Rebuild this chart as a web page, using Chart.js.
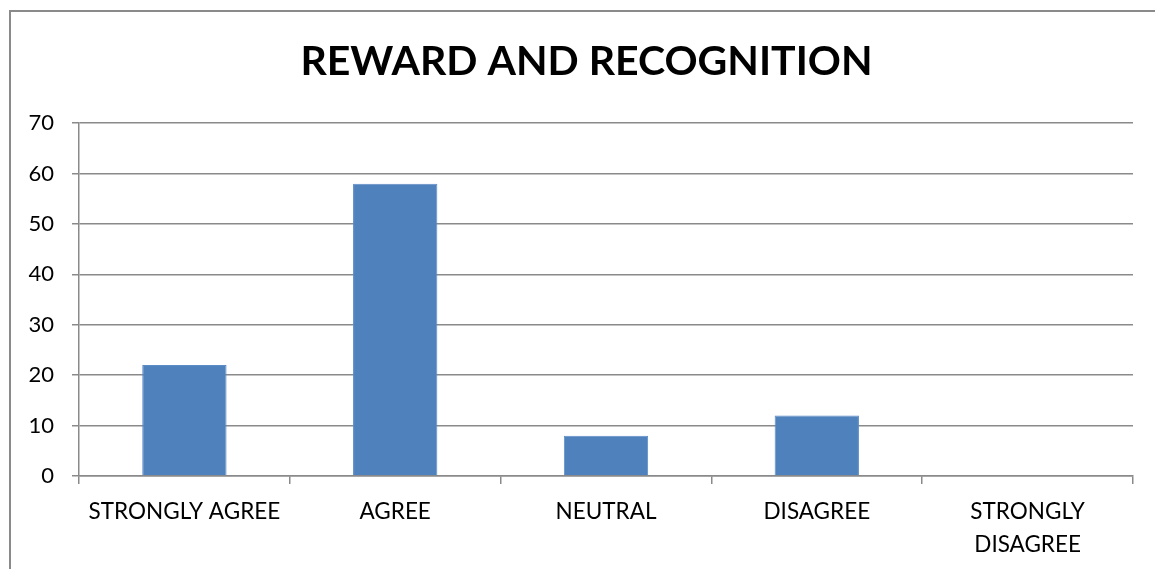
<!DOCTYPE html>
<html>
<head>
<meta charset="utf-8">
<script src="https://cdn.jsdelivr.net/npm/chart.js@4"></script>
<style>
  html, body { margin: 0; padding: 0; background: #fff; overflow: hidden; }
  #wrap { position: relative; width: 1155px; height: 569px; }
  #frame { position: absolute; left: 9px; top: 10px; width: 1200px; height: 600px; border: 2px solid #8a8a8a; }
  #chart { position: absolute; left: 0; top: 0; }
</style>
</head>
<body>
<div id="wrap">
  <div id="frame"></div>
  <canvas id="chart" width="1155" height="569"></canvas>
</div>
<script>
// chart data
const categories = ['STRONGLY AGREE', 'AGREE', 'NEUTRAL', 'DISAGREE', ['STRONGLY', 'DISAGREE']];
const responses = [22, 58, 8, 12, 0];
const yTicks = [0, 10, 20, 30, 40, 50, 60, 70];

const fontFamily = 'Lato, "Open Sans", sans-serif';
const gridColor = '#8a8a8a';

const ctx = document.getElementById('chart');

// nudge the title box so it is centred inside the frame like the original
const titleShift = {
  id: 'titleShift',
  afterLayout(chart) {
    if (chart.titleBlock) {
      chart.titleBlock.left = 40;
    }
  },
};

new Chart(ctx, {
  type: 'bar',
  data: {
    labels: categories,
    datasets: [
      {
        label: 'Responses',
        data: responses,
        backgroundColor: '#4F81BD',
        borderColor: '#5b8cc6',
        borderWidth: 1,
        categoryPercentage: 1,
        barPercentage: 0.4,
      },
    ],
  },
  options: {
    responsive: false,
    animation: false,
    devicePixelRatio: 1,
    layout: {
      padding: { left: 12, right: 22, top: 0, bottom: 0 },
    },
    plugins: {
      legend: { display: false },
      tooltip: { enabled: false },
      title: {
        display: true,
        text: 'REWARD AND RECOGNITION',
        color: '#000',
        font: { family: fontFamily, size: 41, weight: 'bold', lineHeight: 1.2 },
        padding: { top: 37, bottom: 37 },
      },
    },
    scales: {
      x: {
        offset: true,
        afterFit: (scale) => {
          // bottom of the frame is cut off in the original picture
          scale.height = 93;
        },
        grid: {
          offset: true,
          drawOnChartArea: false,
          drawTicks: true,
          tickLength: 8,
          color: gridColor,
          lineWidth: 1.5,
        },
        border: { color: gridColor, width: 1.5 },
        ticks: {
          color: '#000',
          padding: 11,
          maxRotation: 0,
          autoSkip: false,
          font: { family: fontFamily, size: 22.5, lineHeight: 1.47 },
        },
      },
      y: {
        min: 0,
        max: 70,
        afterBuildTicks: (scale) => {
          scale.ticks = yTicks.map((v) => ({ value: v }));
        },
        afterFit: (scale) => {
          scale.width = 67;
        },
        grid: {
          color: gridColor,
          lineWidth: 1.5,
          tickLength: 7,
        },
        border: { color: gridColor, width: 1.5 },
        ticks: {
          color: '#000',
          padding: 18,
          font: { family: fontFamily, size: 22 },
        },
      },
    },
  },
  plugins: [titleShift],
});
</script>
</body>
</html>
